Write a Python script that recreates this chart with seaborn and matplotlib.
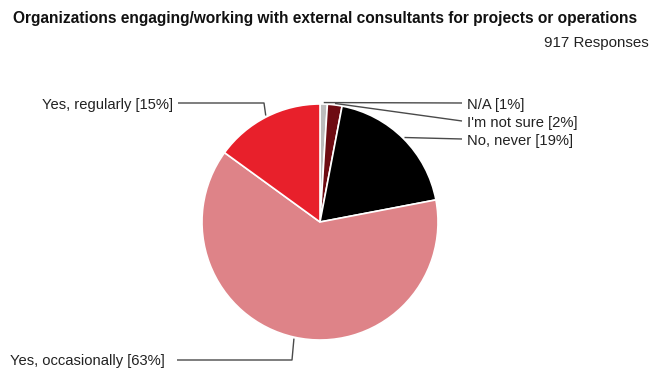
import numpy as np
import matplotlib
matplotlib.use("Agg")
import matplotlib.pyplot as plt
import seaborn as sns

sns.set_theme(style="white")
plt.rcParams['font.family'] = ['Liberation Sans', 'DejaVu Sans']

# Survey answers, clockwise from the top
categories = ["N/A", "I'm not sure", "No, never", "Yes, occasionally", "Yes, regularly"]
percents = [1, 2, 19, 63, 15]
colors = ["#bcbcbc", "#6e0b12", "#000000", "#de8388", "#e8202b"]
title = "Organizations engaging/working with external consultants for projects or operations"
subtitle = "917 Responses"

W, H = 661, 369
fig = plt.figure(figsize=(W / 100, H / 100), dpi=100)
ax = fig.add_axes([0, 0, 1, 1])

cx, cy, r = 320, H - 222, 118
wedges, _ = ax.pie(percents, colors=colors, startangle=90, counterclock=False,
                   center=(cx, cy), radius=r, frame=True,
                   wedgeprops=dict(edgecolor="white", linewidth=1.2))
ax.set_xlim(0, W)
ax.set_ylim(0, H)
ax.set_aspect("equal")
ax.axis("off")

labels = [f"{c} [{p}%]" for c, p in zip(categories, percents)]

# label placement in pixel space measured from the top-left:
# (line end, optional elbow, text x, text y, alignment)
layout = {
    0: ((462, 103), None, 467, 103, "left"),
    1: ((462, 121), None, 467, 121, "left"),
    2: ((462, 139), None, 467, 139, "left"),
    3: ((177, 360), (292, 360), 165, 360, "right"),
    4: ((178, 103), (264, 103), 173, 103, "right"),
}

line_kw = dict(color="#4a4a4a", linewidth=1.0, solid_capstyle="butt")
for i, w in enumerate(wedges):
    ang = np.deg2rad((w.theta1 + w.theta2) / 2)
    ax_x = cx + (r + 1.5) * np.cos(ang)
    ax_y = cy + (r + 1.5) * np.sin(ang)
    end, elbow, tx, ty, ha = layout[i]
    if elbow is None:
        xs = [ax_x, end[0]]
        ys = [ax_y, H - end[1]]
    else:
        xs = [ax_x, elbow[0], end[0]]
        ys = [ax_y, H - elbow[1], H - end[1]]
    ax.plot(xs, ys, **line_kw)
    ax.text(tx, H - ty, labels[i], ha=ha, va="center_baseline", fontsize=10.6,
            color="#222222")

fig.text(13 / W, 1 - 18 / H, title, ha="left", va="center", fontsize=11.2,
         fontweight="bold", color="#111111")
fig.text(649 / W, 1 - 43 / H, subtitle, ha="right", va="center", fontsize=10.9,
         color="#222222")

fig.savefig("out.png", dpi=100)
